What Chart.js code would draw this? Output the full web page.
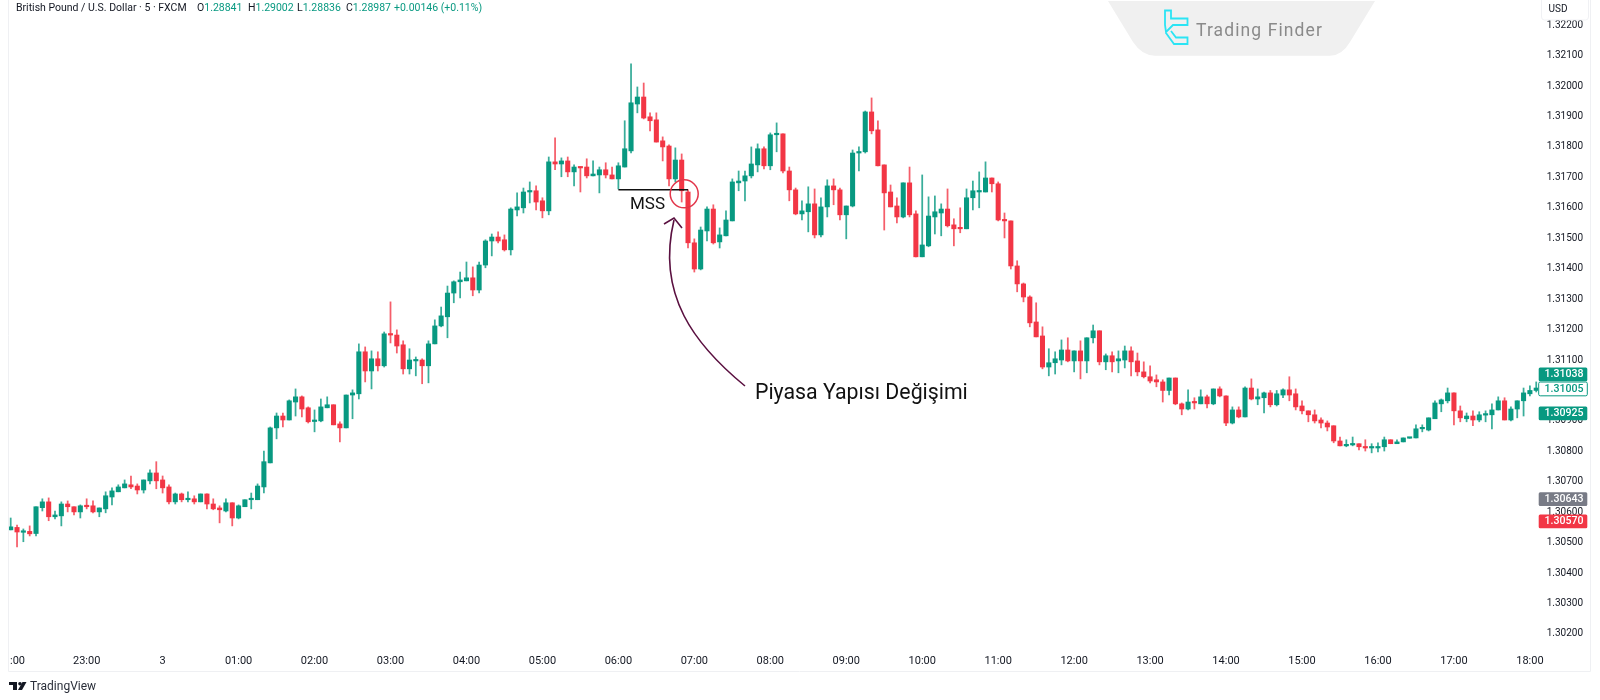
<!DOCTYPE html>
<html><head><meta charset="utf-8">
<style>html,body{margin:0;padding:0;background:#fff}canvas{display:block}</style>
<script src="https://cdn.jsdelivr.net/npm/chart.js@4/dist/chart.umd.min.js"></script>
</head><body><canvas id="c" width="1600" height="700"></canvas>
<script>
const opens=[1.30542,1.30550,1.30534,1.30537,1.30530,1.30615,1.30634,1.30585,1.30588,1.30627,1.30618,1.30601,1.30621,1.30621,1.30601,1.30611,1.30650,1.30667,1.30680,1.30690,
1.30686,1.30673,1.30703,1.30729,1.30706,1.30683,1.30634,1.30660,1.30641,1.30644,1.30634,1.30660,1.30627,1.30614,1.30604,1.30631,1.30581,1.30618,1.30641,1.30641,
1.30683,1.30762,1.30877,1.30916,1.30903,1.30962,1.30979,1.30943,1.30898,1.30900,1.30943,1.30953,1.30890,1.30877,1.30985,1.30989,1.31127,1.31064,1.31104,1.31081,
1.31186,1.31182,1.31150,1.31071,1.31097,1.31100,1.31081,1.31153,1.31212,1.31242,1.31320,1.31357,1.31360,1.31370,1.31330,1.31412,1.31491,1.31504,1.31495,1.31462,
1.31593,1.31600,1.31652,1.31656,1.31623,1.31590,1.31751,1.31744,1.31754,1.31718,1.31734,1.31734,1.31705,1.31708,1.31725,1.31708,1.31695,1.31734,1.31787,1.31941,
1.31964,1.31899,1.31889,1.31820,1.31803,1.31695,1.31757,1.31652,1.31485,1.31399,1.31524,1.31596,1.31488,1.31508,1.31557,1.31682,1.31688,1.31705,1.31741,1.31794,
1.31738,1.31840,1.31843,1.31721,1.31659,1.31580,1.31587,1.31613,1.31511,1.31603,1.31672,1.31659,1.31577,1.31606,1.31780,1.31784,1.31915,1.31856,1.31741,1.31652,
1.31606,1.31570,1.31682,1.31580,1.31439,1.31475,1.31570,1.31583,1.31596,1.31544,1.31534,1.31531,1.31633,1.31652,1.31652,1.31698,1.31679,1.31560,1.31557,1.31409,
1.31350,1.31307,1.31225,1.31179,1.31077,1.31091,1.31100,1.31133,1.31097,1.31130,1.31097,1.31173,1.31196,1.31094,1.31114,1.31097,1.31100,1.31130,1.31097,1.31061,
1.31045,1.31035,1.31028,1.31000,1.31041,1.30956,1.30939,1.30962,1.30956,1.30979,1.30956,1.31005,1.30982,1.30893,1.30936,1.30913,1.31008,1.30972,1.30976,1.30992,
1.30953,1.30985,1.31002,1.30989,1.30949,1.30933,1.30920,1.30903,1.30893,1.30884,1.30834,1.30818,1.30821,1.30825,1.30815,1.30811,1.30811,1.30815,1.30838,1.30825,
1.30831,1.30843,1.30844,1.30874,1.30870,1.30907,1.30956,1.30966,1.30992,1.30933,1.30907,1.30916,1.30903,1.30919,1.30920,1.30936,1.30966,1.30903,1.30939,1.30966,
1.30989,1.31000];
const highs=[1.30581,1.30558,1.30545,1.30555,1.30618,1.30644,1.30647,1.30604,1.30634,1.30637,1.30618,1.30624,1.30644,1.30637,1.30614,1.30667,1.30680,1.30690,1.30706,1.30719,
1.30693,1.30706,1.30739,1.30766,1.30719,1.30690,1.30663,1.30663,1.30667,1.30654,1.30660,1.30660,1.30644,1.30621,1.30644,1.30631,1.30624,1.30641,1.30663,1.30693,
1.30801,1.30880,1.30926,1.30926,1.30969,1.31005,1.30982,1.30946,1.30936,1.30972,1.30979,1.30953,1.30897,1.30985,1.31002,1.31153,1.31143,1.31130,1.31127,1.31192,
1.31291,1.31199,1.31163,1.31137,1.31110,1.31104,1.31163,1.31232,1.31274,1.31343,1.31360,1.31389,1.31422,1.31406,1.31422,1.31495,1.31514,1.31521,1.31511,1.31600,
1.31649,1.31665,1.31685,1.31672,1.31633,1.31767,1.31830,1.31764,1.31767,1.31741,1.31734,1.31761,1.31754,1.31734,1.31748,1.31734,1.31748,1.31886,1.32073,1.31997,
1.32010,1.31912,1.31912,1.31833,1.31807,1.31797,1.31777,1.31659,1.31498,1.31537,1.31603,1.31610,1.31534,1.31590,1.31695,1.31721,1.31721,1.31800,1.31810,1.31800,
1.31846,1.31879,1.31843,1.31734,1.31665,1.31623,1.31669,1.31662,1.31633,1.31692,1.31695,1.31665,1.31606,1.31790,1.31800,1.31918,1.31961,1.31886,1.31741,1.31675,
1.31633,1.31682,1.31734,1.31590,1.31708,1.31636,1.31639,1.31613,1.31662,1.31564,1.31600,1.31662,1.31688,1.31718,1.31751,1.31698,1.31685,1.31583,1.31557,1.31426,
1.31353,1.31311,1.31288,1.31209,1.31137,1.31127,1.31166,1.31173,1.31130,1.31163,1.31173,1.31215,1.31196,1.31120,1.31127,1.31130,1.31146,1.31143,1.31123,1.31094,
1.31081,1.31051,1.31035,1.31041,1.31041,1.30959,1.31002,1.30976,1.31002,1.30985,1.31005,1.31012,1.30982,1.30946,1.30946,1.31012,1.31038,1.31005,1.30995,1.31000,
1.31000,1.31005,1.31045,1.31005,1.30966,1.30933,1.30936,1.30910,1.30900,1.30884,1.30847,1.30838,1.30847,1.30825,1.30838,1.30825,1.30828,1.30847,1.30838,1.30838,
1.30844,1.30844,1.30887,1.30887,1.30910,1.30966,1.30972,1.31008,1.30992,1.30949,1.30926,1.30933,1.30930,1.30933,1.30956,1.30979,1.30976,1.30946,1.30966,1.31008,
1.31015,1.31028];
const lows=[1.30542,1.30486,1.30503,1.30522,1.30522,1.30604,1.30572,1.30578,1.30555,1.30601,1.30591,1.30581,1.30611,1.30598,1.30585,1.30598,1.30624,1.30667,1.30680,1.30677,
1.30660,1.30663,1.30693,1.30677,1.30663,1.30627,1.30627,1.30634,1.30634,1.30627,1.30634,1.30611,1.30608,1.30565,1.30601,1.30555,1.30578,1.30618,1.30611,1.30641,
1.30663,1.30762,1.30841,1.30880,1.30903,1.30916,1.30913,1.30893,1.30864,1.30897,1.30943,1.30887,1.30831,1.30877,1.30907,1.30972,1.31028,1.31005,1.31064,1.31077,
1.31156,1.31123,1.31054,1.31054,1.31048,1.31022,1.31025,1.31153,1.31209,1.31173,1.31288,1.31304,1.31360,1.31311,1.31320,1.31403,1.31442,1.31485,1.31458,1.31445,
1.31573,1.31583,1.31616,1.31593,1.31567,1.31577,1.31725,1.31702,1.31702,1.31672,1.31652,1.31698,1.31705,1.31649,1.31698,1.31695,1.31662,1.31734,1.31780,1.31912,
1.31892,1.31853,1.31816,1.31754,1.31672,1.31685,1.31619,1.31468,1.31389,1.31396,1.31491,1.31481,1.31468,1.31508,1.31557,1.31656,1.31623,1.31698,1.31718,1.31728,
1.31725,1.31784,1.31715,1.31623,1.31577,1.31560,1.31521,1.31501,1.31504,1.31570,1.31610,1.31560,1.31498,1.31603,1.31721,1.31780,1.31843,1.31738,1.31527,1.31603,
1.31550,1.31567,1.31570,1.31439,1.31439,1.31472,1.31514,1.31508,1.31537,1.31475,1.31518,1.31531,1.31593,1.31600,1.31652,1.31652,1.31557,1.31501,1.31399,1.31324,
1.31291,1.31209,1.31176,1.31071,1.31048,1.31054,1.31084,1.31094,1.31061,1.31038,1.31058,1.31156,1.31084,1.31068,1.31061,1.31058,1.31074,1.31048,1.31048,1.31041,
1.31025,1.31012,1.30962,1.30985,1.30953,1.30920,1.30936,1.30939,1.30956,1.30943,1.30953,1.30979,1.30884,1.30890,1.30910,1.30913,1.30969,1.30953,1.30926,1.30946,
1.30949,1.30976,1.30966,1.30936,1.30923,1.30897,1.30893,1.30877,1.30867,1.30828,1.30818,1.30815,1.30818,1.30805,1.30801,1.30795,1.30798,1.30801,1.30825,1.30825,
1.30831,1.30843,1.30844,1.30864,1.30867,1.30907,1.30930,1.30959,1.30887,1.30897,1.30897,1.30884,1.30897,1.30897,1.30874,1.30936,1.30903,1.30900,1.30910,1.30916,
1.30982,1.30995];
const closes=[1.30552,1.30535,1.30539,1.30529,1.30618,1.30634,1.30585,1.30591,1.30627,1.30618,1.30601,1.30621,1.30618,1.30601,1.30614,1.30654,1.30670,1.30683,1.30693,1.30683,
1.30673,1.30706,1.30729,1.30703,1.30680,1.30634,1.30660,1.30641,1.30644,1.30634,1.30660,1.30627,1.30611,1.30608,1.30631,1.30581,1.30621,1.30641,1.30644,1.30686,
1.30766,1.30877,1.30916,1.30903,1.30966,1.30979,1.30939,1.30897,1.30901,1.30946,1.30953,1.30887,1.30877,1.30985,1.30992,1.31127,1.31064,1.31104,1.31081,1.31186,
1.31182,1.31146,1.31071,1.31100,1.31100,1.31081,1.31153,1.31212,1.31245,1.31320,1.31357,1.31363,1.31370,1.31330,1.31412,1.31491,1.31504,1.31491,1.31462,1.31596,
1.31603,1.31652,1.31656,1.31619,1.31590,1.31751,1.31744,1.31754,1.31718,1.31734,1.31731,1.31705,1.31711,1.31725,1.31708,1.31695,1.31738,1.31794,1.31945,1.31964,
1.31895,1.31886,1.31816,1.31800,1.31695,1.31757,1.31656,1.31485,1.31399,1.31527,1.31596,1.31485,1.31511,1.31560,1.31685,1.31688,1.31705,1.31744,1.31794,1.31738,
1.31840,1.31843,1.31721,1.31659,1.31580,1.31590,1.31613,1.31511,1.31603,1.31672,1.31659,1.31577,1.31606,1.31780,1.31784,1.31915,1.31853,1.31738,1.31649,1.31603,
1.31570,1.31682,1.31577,1.31439,1.31478,1.31573,1.31587,1.31596,1.31541,1.31531,1.31531,1.31633,1.31656,1.31656,1.31698,1.31679,1.31560,1.31557,1.31409,1.31350,
1.31307,1.31222,1.31176,1.31077,1.31091,1.31104,1.31133,1.31097,1.31130,1.31097,1.31173,1.31196,1.31094,1.31114,1.31094,1.31104,1.31130,1.31094,1.31061,1.31045,
1.31031,1.31028,1.31000,1.31041,1.30956,1.30939,1.30962,1.30959,1.30979,1.30956,1.31005,1.30982,1.30893,1.30936,1.30913,1.31008,1.30972,1.30979,1.30992,1.30953,
1.30989,1.31002,1.30985,1.30946,1.30933,1.30920,1.30900,1.30893,1.30880,1.30834,1.30818,1.30821,1.30825,1.30815,1.30811,1.30815,1.30815,1.30838,1.30825,1.30831,
1.30844,1.30844,1.30874,1.30877,1.30910,1.30959,1.30969,1.30992,1.30933,1.30910,1.30916,1.30903,1.30920,1.30920,1.30936,1.30966,1.30903,1.30939,1.30966,1.30992,
1.31000,1.31008];
const timeLabels=["     :00","23:00","3","01:00","02:00","03:00","04:00","05:00","06:00","07:00","08:00","09:00","10:00","11:00","12:00","13:00","14:00","15:00","16:00","17:00","18:00"];
const tagValues=[1.31038,1.31005,1.30925,1.30643,1.30570];
const tagLabels=["1.31038","1.31005","1.30925","1.30643","1.30570"];
const mssPrice=1.31659, mssStart=96, mssEnd=107, mssTextIndex=100.6, mssTextPrice=1.31609;
const circleIndex=106.4, circlePrice=1.31646;

const GREEN='#089981',RED='#f23645',TXT='#131722';
const FONT='Roboto, sans-serif';
const idx=opens.map((_,i)=>i);
const colorOf=i=>closes[i]>=opens[i]?GREEN:RED;

const decor={id:'decor',afterDraw(ch){
  const c=ch.ctx,x=ch.scales.x,y=ch.scales.y;
  c.save();
  c.strokeStyle='#eff0f3';c.lineWidth=1;
  c.beginPath();c.moveTo(8.5,0);c.lineTo(8.5,671.5);c.lineTo(1590.5,671.5);c.lineTo(1590.5,0);c.stroke();
  const my=y.getPixelForValue(mssPrice);
  c.strokeStyle='#111';c.lineWidth=1.5;
  c.beginPath();c.moveTo(x.getPixelForValue(mssStart),my);c.lineTo(x.getPixelForValue(mssEnd),my);c.stroke();
  c.fillStyle='#111';c.font='17px '+FONT;c.textAlign='center';c.textBaseline='middle';
  c.fillText('MSS',x.getPixelForValue(mssTextIndex),y.getPixelForValue(mssTextPrice));
  c.strokeStyle='#e2364a';c.lineWidth=1.5;
  c.beginPath();c.arc(x.getPixelForValue(circleIndex),y.getPixelForValue(circlePrice),14,0,Math.PI*2);c.stroke();
  c.strokeStyle='#5a1040';c.lineWidth=1.6;
  c.beginPath();c.moveTo(745,386);c.bezierCurveTo(695,345,656,295,674,220);c.stroke();
  c.beginPath();c.moveTo(664,224);c.lineTo(674,218);c.lineTo(682,228);c.stroke();
  c.fillStyle='#111';c.font='21.3px '+FONT;c.textAlign='left';
  c.fillText('Piyasa Yapısı Değişimi',755,393.5);
  c.textBaseline='middle';c.font='10.5px '+FONT;c.fillStyle=TXT;
  c.fillText('British Pound / U.S. Dollar · 5 · FXCM',16,8);
  [['O','1.28841',197],['H','1.29002',248],['L','1.28836',297],['C','1.28987',346]].forEach(([a,b,px])=>{
    c.fillStyle=TXT;c.fillText(a,px,8);const w=c.measureText(a).width;
    c.fillStyle=GREEN;c.fillText(b,px+w,8);
  });
  c.fillStyle=GREEN;c.fillText('+0.00146 (+0.11%)',394,8);
  c.fillStyle='#f0f0f0';
  c.beginPath();c.moveTo(1108,1);c.lineTo(1375,1);c.lineTo(1350,42);c.quadraticCurveTo(1342,55.7,1330,55.7);
  c.lineTo(1155,55.7);c.quadraticCurveTo(1142,55.7,1133,42);c.closePath();c.fill();
  c.strokeStyle='#2be4f4';c.lineWidth=1.8;
  c.beginPath();c.moveTo(1165,10.5);c.lineTo(1171,10.5);c.lineTo(1171,18.5);c.lineTo(1187.5,18.5);c.lineTo(1187.5,25);c.lineTo(1173,25);c.lineTo(1166,32);c.lineTo(1165,25);c.closePath();c.stroke();
  c.beginPath();c.moveTo(1166,33);c.lineTo(1174,44);c.lineTo(1187.5,44);c.lineTo(1187.5,37.5);c.lineTo(1176,37.5);c.lineTo(1171,31);c.stroke();
  c.fillStyle='#8a8a8a';c.font='17.5px '+FONT;c.textAlign='left';
  if('letterSpacing' in c)c.letterSpacing='1.1px';
  c.fillText('Trading Finder',1196,32);
  if('letterSpacing' in c)c.letterSpacing='0px';
  c.fillStyle='#fff';c.strokeStyle='#f0f1f4';c.lineWidth=1;
  c.beginPath();c.roundRect(1541.5,-3,47,23,3);c.fill();c.stroke();
  c.fillStyle=TXT;c.font='10px '+FONT;c.textAlign='center';c.fillText('USD',1558,9.5);
  const styles=[[GREEN,'#fff',-4.6],['#fff',GREEN,0],[GREEN,'#fff',0],['#787b86','#fff',0],[RED,'#fff',0]];
  tagValues.forEach((v,i)=>{
    const [bg,fg,dy]=styles[i],py=y.getPixelForValue(v)+dy;
    c.fillStyle=bg;c.beginPath();c.roundRect(1538.7,py-6.9,48.6,13.8,1.5);c.fill();
    if(bg==='#fff'){c.strokeStyle=GREEN;c.lineWidth=1;c.stroke();}
    c.fillStyle=fg;c.font='500 10.6px '+FONT;c.textAlign='center';c.fillText(tagLabels[i],1564,py+.5);
  });
  c.fillStyle='#131722';
  c.fillRect(9,682,8,3);c.fillRect(13,685,4,5);
  c.beginPath();c.arc(20,683.8,1.8,0,7);c.fill();
  c.beginPath();c.moveTo(22.5,682);c.lineTo(26.5,682);c.lineTo(22,690);c.lineTo(18,690);c.closePath();c.fill();
  c.fillStyle='#2a2e39';c.font='12px '+FONT;c.textAlign='left';c.fillText('TradingView',30,686.5);
  c.restore();
}};

new Chart(document.getElementById('c'),{
  type:'bar',
  data:{datasets:[
    {label:'wick',order:2,grouped:false,barThickness:1.1,
     data:idx.map(i=>({x:i,y:[lows[i],highs[i]]})),
     backgroundColor:idx.map(i=>colorOf(i)+'cc'),borderWidth:0},
    {label:'body',order:1,grouped:false,barThickness:4.4,minBarLength:1.5,
     data:idx.map(i=>({x:i,y:[opens[i],closes[i]]})),
     backgroundColor:idx.map(colorOf),borderWidth:0}
  ]},
  plugins:[decor],
  options:{
    responsive:false,animation:false,devicePixelRatio:1,
    layout:{padding:{left:8,right:0,top:0,bottom:0}},
    plugins:{legend:{display:false},tooltip:{enabled:false}},
    scales:{
      x:{type:'linear',position:'bottom',offset:false,min:-0.4265,max:241.28,
         grid:{display:false,drawTicks:false},border:{display:false},
         afterFit(s){s.height=52;s.paddingLeft=0;s.paddingRight=0;s.paddingTop=0;s.paddingBottom=0;},
         ticks:{stepSize:12,includeBounds:false,autoSkip:false,maxRotation:0,padding:7,color:TXT,font:{family:FONT,size:11},
           callback:v=>timeLabels[Math.round(v/12)]}},
      y:{type:'linear',position:'right',min:1.301539,max:1.322827,
         grid:{display:false,drawTicks:false},border:{display:false},
         afterFit(s){s.width=62;s.paddingLeft=0;s.paddingRight=0;s.paddingTop=0;s.paddingBottom=0;},
         ticks:{stepSize:0.001,includeBounds:false,autoSkip:false,padding:8.7,color:TXT,font:{family:FONT,size:10},
           callback:v=>v.toFixed(5)}}
    }
  }
});
</script></body></html>
